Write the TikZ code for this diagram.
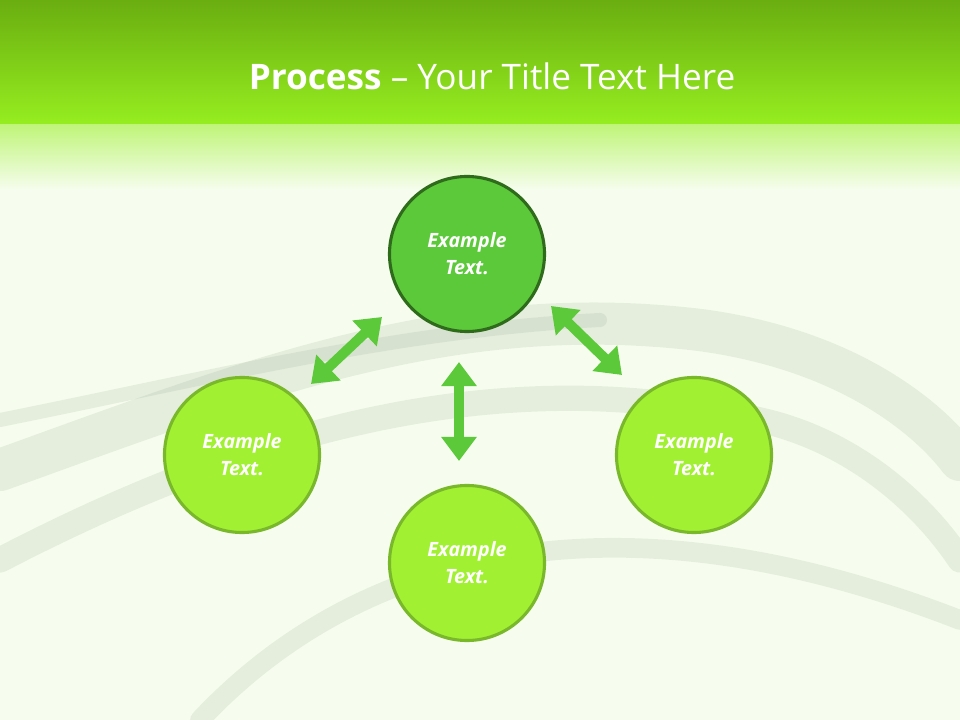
\documentclass[tikz,border=0pt]{standalone}
\usepackage{fontspec}
\setmainfont{Open Sans}
\usetikzlibrary{arrows.meta}
\definecolor{topg}{HTML}{6AAE10}
\definecolor{midg}{HTML}{96EE20}
\definecolor{bgw}{HTML}{F6FDEE}
\definecolor{darkc}{HTML}{5CC93A}
\definecolor{darkb}{HTML}{2E6B1A}
\definecolor{lightc}{HTML}{A2F032}
\definecolor{lightb}{HTML}{78B82A}
\definecolor{swoosh}{HTML}{9AAA90}
\tikzset{
 circ/.style={circle,minimum size=3.875cm,line width=2.2pt,draw=lightb,fill=lightc,text=white,font=\fontsize{14}{19}\selectfont\bfseries\itshape,align=center,inner sep=0pt},
 topcirc/.style={circ,fill=darkc,draw=darkb},
 dbl/.style={{Triangle[width=0.85cm,length=0.6cm]}-{Triangle[width=0.85cm,length=0.6cm]},line width=0.25cm,draw=darkc},
 sw/.style={line width=#1,draw=swoosh,opacity=0.18,line cap=round}
}
\begin{document}
\begin{tikzpicture}[x=0.025cm,y=-0.025cm]
\useasboundingbox (0,0) rectangle (960,720);
\fill[bgw] (0,0) rectangle (960,720);
\shade[top color=topg,bottom color=midg] (0,0) rectangle (960,125);
\shade[top color=midg!60!white,bottom color=bgw] (0,125) rectangle (960,190);
\draw[sw=30pt] (0,470) .. controls (250,380) and (450,300) .. (700,330) .. controls (850,350) and (930,420) .. (960,460);
\draw[sw=18pt] (0,560) .. controls (250,430) and (500,360) .. (760,420) .. controls (850,440) and (920,500) .. (960,560);
\draw[sw=14pt] (200,720) .. controls (350,560) and (600,480) .. (960,620);
\draw[sw=10pt] (0,420) .. controls (200,380) and (400,330) .. (600,320);
\node[text=white,font=\fontsize{25}{30}\selectfont] (title) at (492,76) {\textbf{Process} -- Your Title Text Here};
\node[topcirc] (t) at (467,254) {Example\\Text.};
\node[circ] (l) at (242,455) {Example\\Text.};
\node[circ] (b) at (467,563) {Example\\Text.};
\node[circ] (r) at (694,455) {Example\\Text.};
\coordinate (a1) at (311,384); \coordinate (a2) at (382,317);
\coordinate (b1) at (551,306); \coordinate (b2) at (622,375);
\coordinate (c1) at (459,362); \coordinate (c2) at (459,461);
\draw[dbl] (a1) -- (a2);
\draw[dbl] (b1) -- (b2);
\draw[dbl] (c1) -- (c2);
\end{tikzpicture}
\end{document}
